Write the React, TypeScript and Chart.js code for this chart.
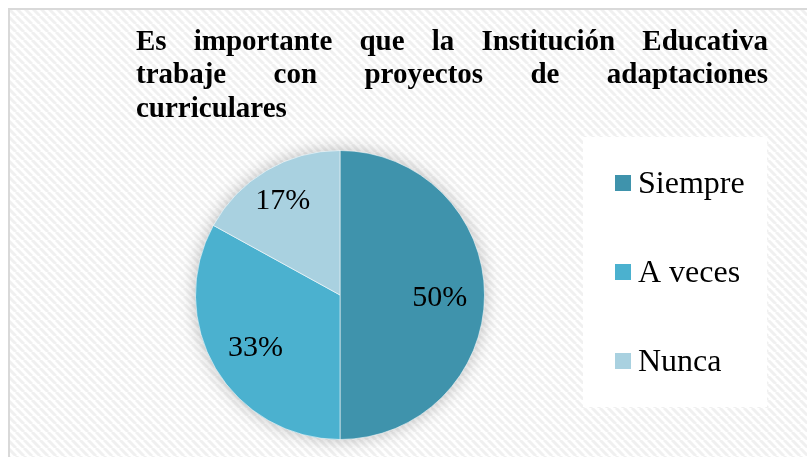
import React, { useEffect, useRef } from "react";
import { Chart, registerables } from "chart.js";

Chart.register(...registerables);

const TITLE_LINES = [
  "Es importante que la Institución Educativa",
  "trabaje con proyectos de adaptaciones",
  "curriculares",
];
const CATEGORIES = ["Siempre", "A veces", "Nunca"];
const VALUES = [50, 33, 17];
const COLORS = ["#3F93AC", "#4BB1CF", "#A9D1E0"];

const SERIF = '"Liberation Serif", "Times New Roman", serif';

function makePattern(ctx: CanvasRenderingContext2D) {
  const c = document.createElement("canvas");
  c.width = 8;
  c.height = 8;
  const p = c.getContext("2d")!;
  p.fillStyle = "#ffffff";
  p.fillRect(0, 0, 8, 8);
  p.strokeStyle = "#f0f0f0";
  p.lineWidth = 3;
  p.beginPath();
  for (let i = -8; i <= 8; i += 8) {
    p.moveTo(i, 0);
    p.lineTo(i + 8, 8);
  }
  p.stroke();
  return ctx.createPattern(c, "repeat");
}

const backgroundPlugin = {
  id: "frameBackground",
  beforeDraw(chart: any) {
    const { ctx, width, height } = chart;
    ctx.save();
    ctx.fillStyle = "#ffffff";
    ctx.fillRect(0, 0, width, height);
    const pat = makePattern(ctx);
    if (pat) ctx.fillStyle = pat;
    ctx.fillRect(8, 8, width - 8, height - 8);
    ctx.fillStyle = "#d9d9d9";
    ctx.fillRect(8, 8, 2, height - 8);
    ctx.fillRect(8, 8, width - 8, 2);
    ctx.restore();
  },
};

const shadowPlugin = {
  id: "pieShadow",
  beforeDatasetsDraw(chart: any) {
    const meta = chart.getDatasetMeta(0);
    const arc = meta.data[0];
    if (!arc) return;
    const { x, y, outerRadius } = arc.getProps(["x", "y", "outerRadius"], true);
    const ctx = chart.ctx;
    ctx.save();
    ctx.shadowColor = "rgba(0,0,0,0.28)";
    ctx.shadowBlur = 18;
    ctx.fillStyle = "#ffffff";
    ctx.beginPath();
    ctx.arc(x, y, outerRadius - 1, 0, Math.PI * 2);
    ctx.fill();
    ctx.restore();
  },
};

const pctLabelPlugin = {
  id: "pctLabels",
  afterDatasetsDraw(chart: any, _args: any, opts: any) {
    const ctx = chart.ctx;
    const meta = chart.getDatasetMeta(0);
    const data = chart.data.datasets[0].data as number[];
    const total = data.reduce((s, v) => s + v, 0);
    ctx.save();
    ctx.font = `${opts.size}px ${SERIF}`;
    ctx.fillStyle = "#000000";
    ctx.textAlign = "center";
    ctx.textBaseline = "alphabetic";
    meta.data.forEach((el: any, i: number) => {
      const { x, y, startAngle, endAngle, outerRadius } = el.getProps(
        ["x", "y", "startAngle", "endAngle", "outerRadius"],
        true
      );
      const mid = (startAngle + endAngle) / 2;
      const f = opts.radii[i] ?? 0.69;
      const px = x + Math.cos(mid) * outerRadius * f;
      const py = y + Math.sin(mid) * outerRadius * f;
      const txt = Math.round((data[i] / total) * 100) + "%";
      ctx.fillText(txt, px, py + opts.baselineShift);
    });
    ctx.restore();
  },
};

const titlePlugin = {
  id: "justifiedTitle",
  afterDraw(chart: any, _args: any, opts: any) {
    const ctx = chart.ctx;
    ctx.save();
    ctx.font = `bold ${opts.size}px ${SERIF}`;
    ctx.fillStyle = "#000000";
    ctx.textAlign = "left";
    ctx.textBaseline = "alphabetic";
    const lines: string[] = opts.lines;
    lines.forEach((line, i) => {
      const y = opts.top + i * opts.lineHeight;
      const words = line.split(" ");
      if (i === lines.length - 1 || words.length < 2) {
        ctx.fillText(line, opts.left, y);
        return;
      }
      const wordsW = words.reduce((s, w) => s + ctx.measureText(w).width, 0);
      const gap = (opts.right - opts.left - wordsW) / (words.length - 1);
      let x = opts.left;
      words.forEach((w) => {
        ctx.fillText(w, x, y);
        x += ctx.measureText(w).width + gap;
      });
    });
    ctx.restore();
  },
};

const sideLegendPlugin = {
  id: "sideLegend",
  afterDraw(chart: any, _args: any, opts: any) {
    const ctx = chart.ctx;
    const labels = chart.data.labels as string[];
    const colors = chart.data.datasets[0].backgroundColor as string[];
    ctx.save();
    ctx.fillStyle = "#ffffff";
    ctx.fillRect(opts.boxX, opts.boxY, opts.boxW, opts.boxH);
    ctx.font = `${opts.size}px ${SERIF}`;
    ctx.textAlign = "left";
    ctx.textBaseline = "alphabetic";
    labels.forEach((lab, i) => {
      const top = opts.firstTop + i * opts.step;
      ctx.fillStyle = colors[i];
      ctx.fillRect(opts.itemX, top, opts.square, opts.square);
      ctx.fillStyle = "#000000";
      ctx.fillText(lab, opts.textX, top + opts.textDy);
    });
    ctx.restore();
  },
};

export default function App() {
  const ref = useRef<HTMLCanvasElement | null>(null);

  useEffect(() => {
    document.body.style.margin = "0";
    const canvas = ref.current;
    if (!canvas) return;
    const chart = new Chart(canvas, {
      type: "pie",
      data: {
        labels: CATEGORIES,
        datasets: [
          {
            data: VALUES,
            backgroundColor: COLORS,
            borderColor: "rgba(255,255,255,0.55)",
            borderWidth: 1,
          },
        ],
      },
      options: {
        responsive: false,
        animation: false,
        devicePixelRatio: 1,
        layout: { padding: { top: 150, bottom: 17, left: 195, right: 322 } },
        plugins: {
          legend: { display: false },
          tooltip: { enabled: false },
          title: { display: false },
          pctLabels: { size: 30, radii: [0.69, 0.68, 0.78], baselineShift: 11 },
          justifiedTitle: {
            lines: TITLE_LINES,
            size: 29,
            left: 136,
            right: 768,
            top: 50,
            lineHeight: 33.4,
          },
          sideLegend: {
            boxX: 583,
            boxY: 137,
            boxW: 184,
            boxH: 270,
            itemX: 615,
            firstTop: 175,
            step: 89,
            square: 16,
            textX: 638,
            textDy: 18,
            size: 32,
          },
        } as any,
      },
      plugins: [backgroundPlugin, shadowPlugin, pctLabelPlugin, titlePlugin, sideLegendPlugin],
    });
    return () => chart.destroy();
  }, []);

  return (
    <div style={{ width: 807, height: 457 }}>
      <canvas ref={ref} width={807} height={457} style={{ display: "block" }} />
    </div>
  );
}
